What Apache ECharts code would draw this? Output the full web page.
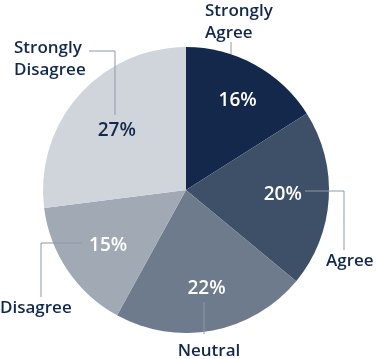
<!DOCTYPE html>
<html><head><meta charset="utf-8">
<script src="https://cdn.jsdelivr.net/npm/echarts@6/dist/echarts.min.js"></script>
<style>html,body{margin:0;padding:0;background:#fff}#c{width:376px;height:359px}</style>
</head><body><div id="c"></div>
<script>
const categories = ['Strongly Agree', 'Agree', 'Neutral', 'Disagree', 'Strongly Disagree'];
const labelTexts = ['Strongly\nAgree', 'Agree', 'Neutral', 'Disagree', 'Strongly\nDisagree'];
const values = [16, 20, 22, 15, 27];
const colors = ['#13284a', '#3e5068', '#6d7b8c', '#a1a9b5', '#d0d4db'];
const pctColors = ['#ffffff', '#ffffff', '#ffffff', '#ffffff', '#13294b'];

// label placement (layout, not data)
const labelSpots = [
  {x: 205, y: 0, align: 'left', va: 'top', line: [[231, 54], [231, 42]]},
  {x: 326, y: 261, align: 'left', va: 'middle', line: [[305, 191], [344, 191], [344, 250]]},
  {x: 209, y: 351, align: 'center', va: 'middle', line: [[204, 302], [204, 334]]},
  {x: 0, y: 308, align: 'left', va: 'middle', line: [[82, 243], [41, 243], [41, 297]]},
  {x: 14, y: 37, align: 'left', va: 'top', line: [[115, 115], [115, 51], [89, 51]]}
];
const pctNudge = [[4, -3], [-2, -2], [2, 1], [4, 0], [5, 6]];

const font = '"Open Sans", "Liberation Sans", sans-serif';
const chart = echarts.init(document.getElementById('c'));
const center = [186, 190];
const R = 143;

chart.setOption({
  animation: false,
  series: [
    {
      type: 'pie',
      z: 1,
      center: center,
      radius: [0, R],
      startAngle: 90,
      clockwise: true,
      silent: true,
      data: categories.map((c, i) => ({
        name: c, value: values[i],
        itemStyle: {color: colors[i]}
      })),
      label: {show: false},
      labelLine: {show: false}
    },
    {
      type: 'pie',
      z: 3,
      center: center,
      radius: [49, R],
      startAngle: 90,
      clockwise: true,
      silent: true,
      avoidLabelOverlap: false,
      itemStyle: {color: 'rgba(0,0,0,0)'},
      data: categories.map((c, i) => ({
        name: c, value: values[i],
        label: {color: pctColors[i]}
      })),
      label: {
        show: true,
        position: 'inside',
        formatter: p => p.value + '%',
        fontFamily: font,
        fontWeight: 600,
        fontSize: 19
      },
      labelLine: {show: false},
      labelLayout: function (p) {
        const n = pctNudge[p.dataIndex];
        return {dx: n[0], dy: n[1]};
      }
    },
    {
      type: 'pie',
      z: 5,
      center: center,
      radius: [0, R],
      startAngle: 90,
      clockwise: true,
      silent: true,
      avoidLabelOverlap: false,
      itemStyle: {color: 'rgba(0,0,0,0)'},
      data: categories.map((c, i) => ({name: c, value: values[i]})),
      label: {
        show: true,
        position: 'outside',
        formatter: p => labelTexts[p.dataIndex],
        color: '#13294b',
        fontFamily: font,
        fontWeight: 600,
        fontSize: 17,
        lineHeight: 22,
        overflow: 'none'
      },
      labelLine: {show: true, lineStyle: {color: '#8e99a8', width: 1}},
      labelLayout: function (p) {
        const s = labelSpots[p.dataIndex];
        return {x: s.x, y: s.y, align: s.align, verticalAlign: s.va, labelLinePoints: s.line, hideOverlap: false};
      }
    }
  ]
});
</script></body></html>
